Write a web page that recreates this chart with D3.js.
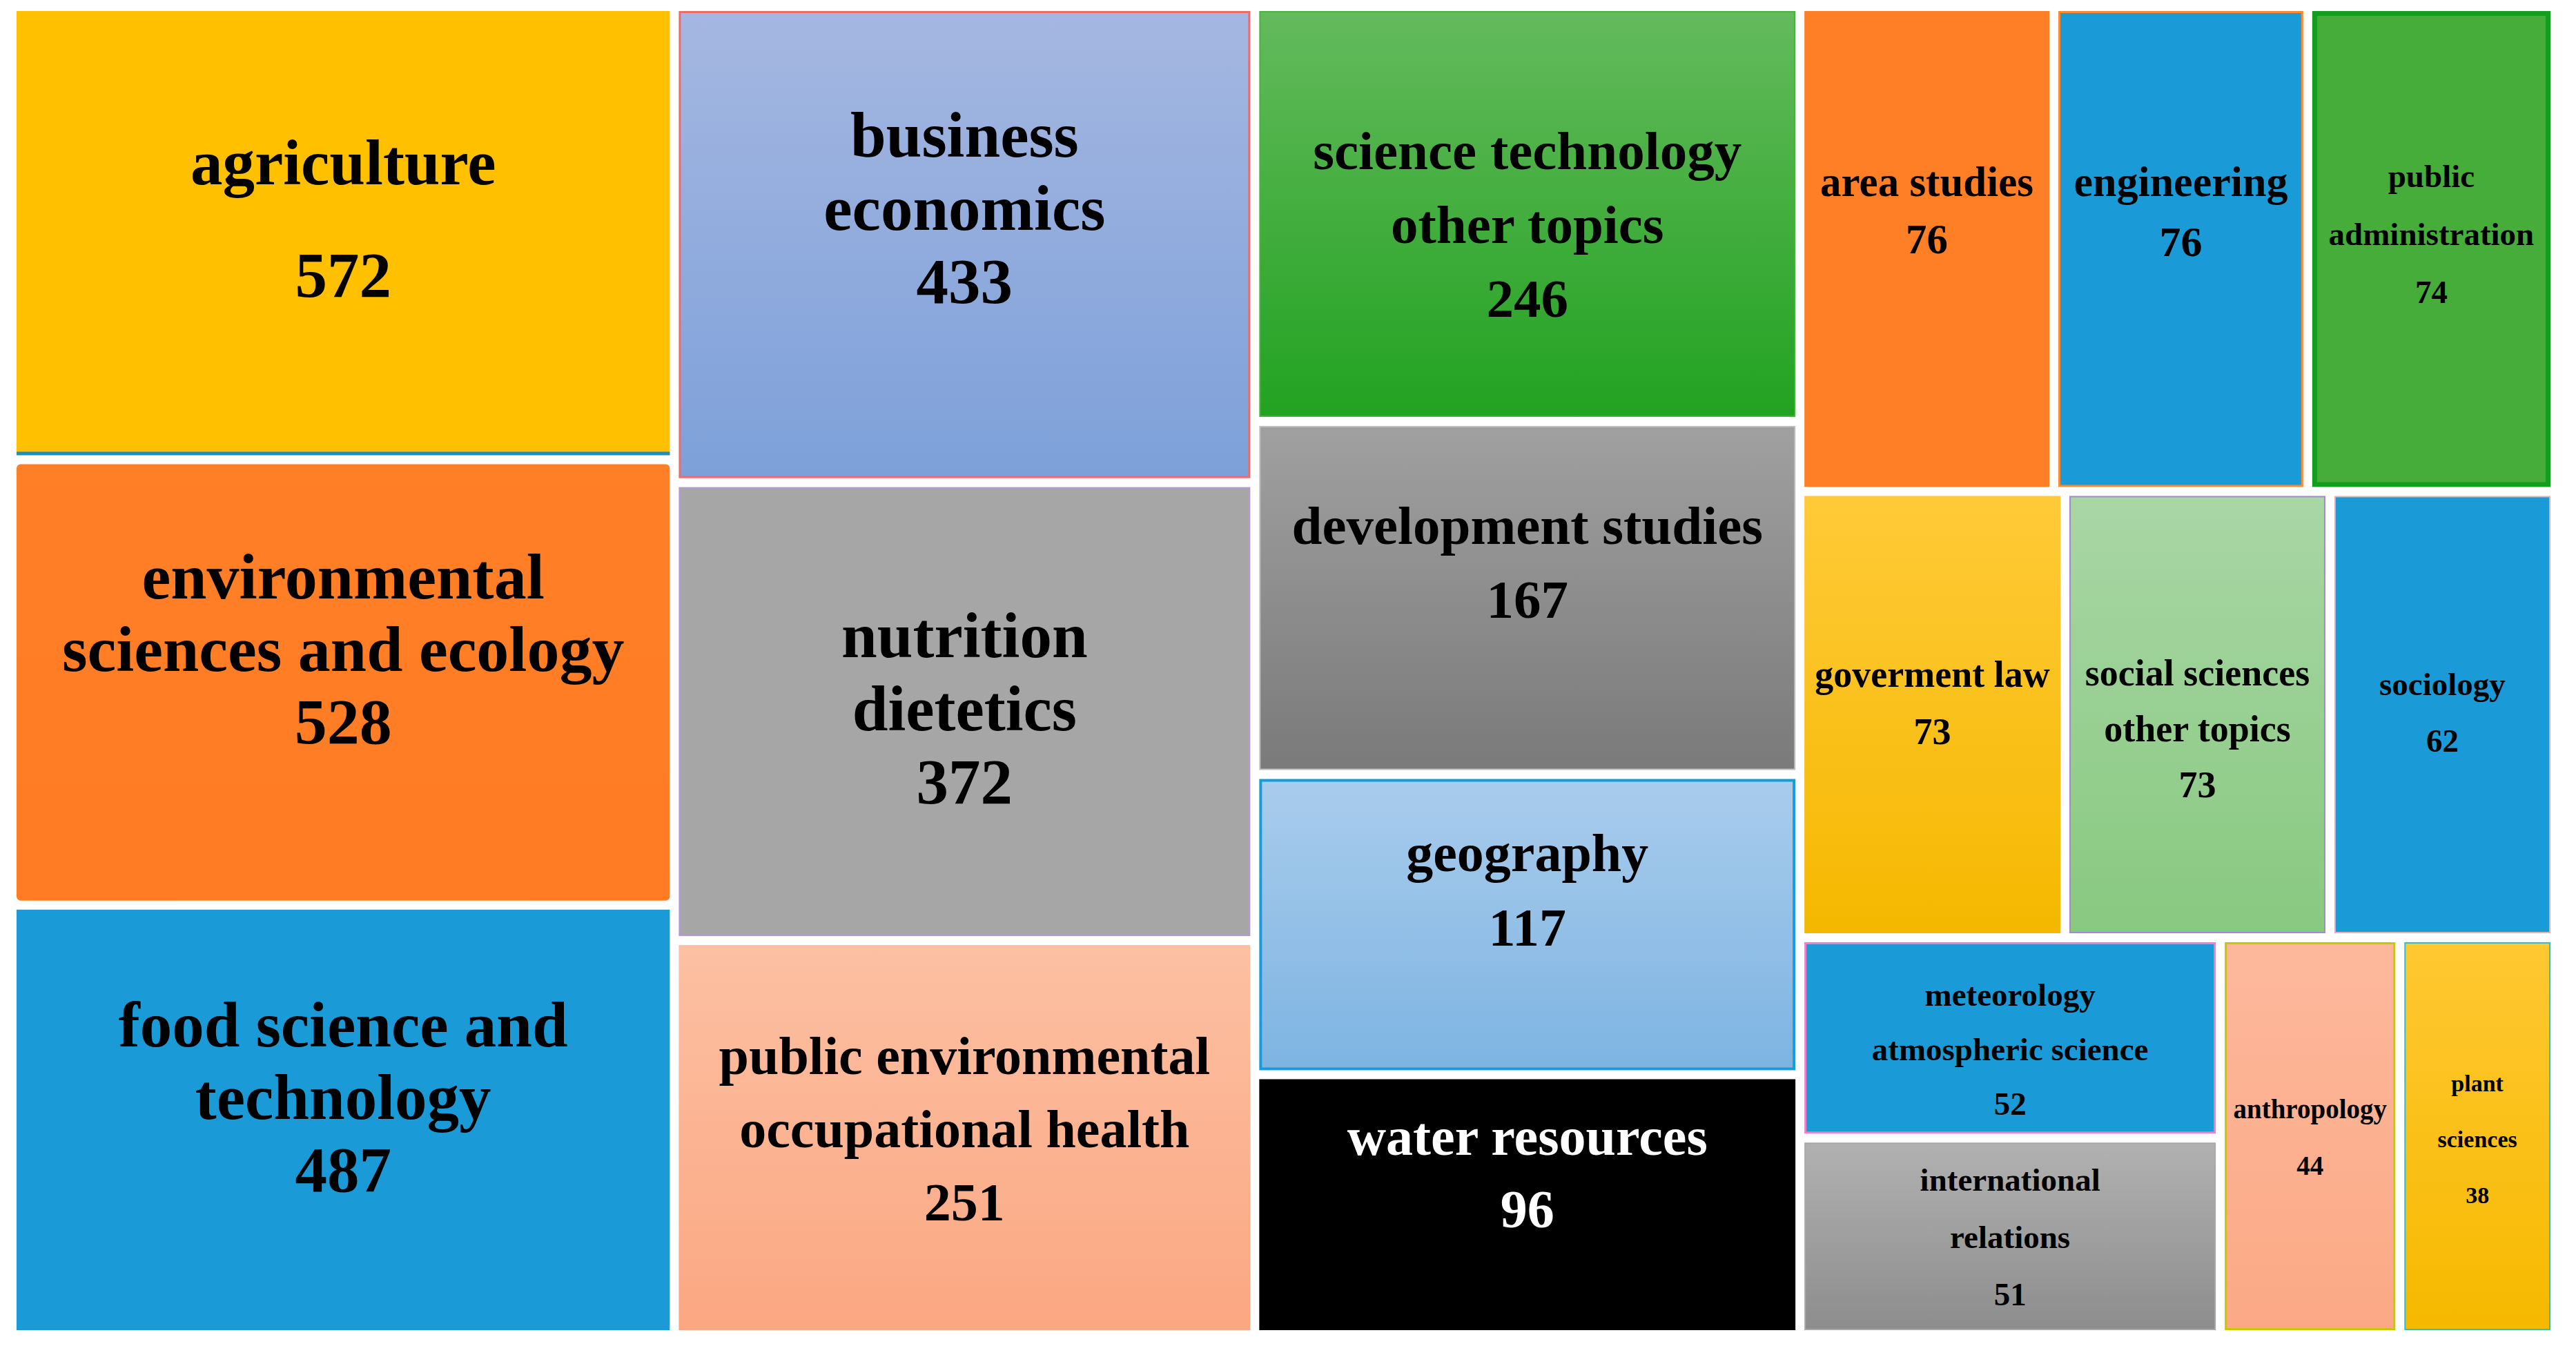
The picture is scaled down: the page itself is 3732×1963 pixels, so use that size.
<!DOCTYPE html>
<html>
<head>
<meta charset="utf-8">
<script src="https://cdn.jsdelivr.net/npm/d3@7"></script>
<style>
  body { margin: 0; background: #ffffff; }
  svg { display: block; }
</style>
</head>
<body>
<div id="chart"></div>
<script>
// research areas and their record counts
let categories = [
  "agriculture", "environmental sciences and ecology", "food science and technology",
  "business economics", "nutrition dietetics", "public environmental occupational health",
  "science technology other topics", "development studies", "geography", "water resources",
  "area studies", "engineering", "public administration",
  "goverment law", "social sciences other topics", "sociology",
  "meteorology atmospheric science", "international relations", "anthropology", "plant sciences"
];
let counts = [572, 528, 487, 433, 372, 251, 246, 167, 117, 96, 76, 76, 74, 73, 73, 62, 52, 51, 44, 38];

// how each label is broken into lines in the picture
let labelLines = [
  ["agriculture"], ["environmental", "sciences and ecology"], ["food science and", "technology"],
  ["business", "economics"], ["nutrition", "dietetics"], ["public environmental", "occupational health"],
  ["science technology", "other topics"], ["development studies"], ["geography"], ["water resources"],
  ["area studies"], ["engineering"], ["public", "administration"],
  ["goverment law"], ["social sciences", "other topics"], ["sociology"],
  ["meteorology", "atmospheric science"], ["international", "relations"], ["anthropology"], ["plant", "sciences"]
];

// arrangement of the cells (indices into categories)
// the three big columns were sized by hand in the original, so they get relative shares;
// the last column is split by the counts themselves
let columnMembers = [[0, 1, 2], [3, 4, 5], [6, 7, 8, 9]];
let columnShare = [956, 838, 787, 1090];
let stackShare = [[652, 641, 618], [685, 659, 567], [597, 508, 432, 374]];
let restRows = [[10, 11, 12], [13, 14, 15], [[16, 17], 18, 19]];

// styles
let fills = [
  ["#FFC000", "#FFC000"], ["#FF7F27", "#FF7C24"], ["#1A9BD7", "#1A9BD7"],
  ["#A5B7E1", "#7DA0D9"], ["#A6A6A6", "#A6A6A6"], ["#FCC0A2", "#FBA782"],
  ["#64BA5C", "#22A221"], ["#A0A0A0", "#7A7A7A"], ["#A9CCEC", "#7EB4E2"], ["#000000", "#000000"],
  ["#FF7F27", "#FF7F27"], ["#1A9BD7", "#1A9BD7"], ["#46AD3A", "#46AD3A"],
  ["#FFCA38", "#F5B800"], ["#A9D6A5", "#88C980"], ["#1A9BD7", "#1A9BD7"],
  ["#1A9BD7", "#1A9BD7"], ["#B1B1B1", "#8D8D8D"], ["#FDB89C", "#FBA985"], ["#FFC832", "#F6B900"]
];
let strokes = [
  null, null, null,
  ["#F06A6A", 3], ["#B695D9", 2], null,
  ["#4CB043", 2], ["#BDBDBD", 2], ["#1A9BD7", 4], null,
  null, ["#FF8A30", 3], ["#129E1E", 7],
  null, ["#A784D6", 2], ["#E3B3B3", 2],
  ["#F07FC8", 3], ["#A8A8A8", 2], ["#C2CA00", 3], ["#35BCC6", 2]
];
// label font size, gap between baselines, first baseline as a share of the cell height
let labelStyle = [
  [93, 163, 0.390], [94, 105, 0.307], [93, 105, 0.326],
  [93, 106, 0.312], [93, 106, 0.378], [78, 106, 0.335],
  [79, 107, 0.389], [79, 107, 0.343], [78, 108, 0.317], [78, 105, 0.301],
  [61, 83, 0.388], [62, 87, 0.388], [47, 84, 0.370],
  [54, 83, 0.437], [54, 81, 0.433], [47, 82, 0.456],
  [47, 79, 0.333], [47, 83, 0.258], [39, 82, 0.453], [34, 81, 0.384]
];

let w = 3732, h = 1963;
let margin = {left: 24, top: 16, right: 37, bottom: 36};

let viz = d3.select("#chart")
  .append("svg")
    .attr("width", w)
    .attr("height", h)
    .style("background-color", "#ffffff")
;

function leaf(i){
  return {name: categories[i], value: counts[i], idx: i};
}

let tree = {
  dir: "row",
  shares: columnShare,
  children: columnMembers.map(function(m, c){
    return {dir: "col", shares: stackShare[c], children: m.map(leaf)};
  }).concat([{
    dir: "col",
    children: restRows.map(function(r){
      return {dir: "row", children: r.map(function(e){
        return Array.isArray(e) ? {dir: "col", children: e.map(leaf)} : leaf(e);
      })};
    })
  }])
};

// slice/dice by the given shares, or by the summed counts when no shares are given
function tile(node, x0, y0, x1, y1){
  let kids = node.children;
  let weights = node.data.shares || kids.map(function(k){ return k.value; });
  let along = node.data.dir === "row";
  let scale = d3.scaleLinear()
    .domain([0, d3.sum(weights)])
    .range(along ? [x0, x1] : [y0, y1]);
  let acc = 0;
  kids.forEach(function(k, i){
    let a = scale(acc), b = scale(acc + weights[i]);
    acc += weights[i];
    if(along){ k.x0 = a; k.x1 = b; k.y0 = y0; k.y1 = y1; }
    else { k.x0 = x0; k.x1 = x1; k.y0 = a; k.y1 = b; }
  });
}

let root = d3.hierarchy(tree).sum(function(d){ return d.value || 0; });
d3.treemap()
  .tile(tile)
  .size([w - margin.left - margin.right, h - margin.top - margin.bottom])
  .paddingInner(13)
  (root);

let defs = viz.append("defs");
let leaves = root.leaves();

leaves.forEach(function(d){
  let g = defs.append("linearGradient")
    .attr("id", "grad" + d.data.idx)
    .attr("x1", 0).attr("y1", 0).attr("x2", 0).attr("y2", 1);
  g.append("stop").attr("offset", "0%").attr("stop-color", fills[d.data.idx][0]);
  g.append("stop").attr("offset", "100%").attr("stop-color", fills[d.data.idx][1]);
});

let graphgroup = viz.append("g")
  .attr("transform", "translate(" + margin.left + "," + margin.top + ")");

let cells = graphgroup.selectAll(".cell").data(leaves).enter()
  .append("g")
    .attr("class", "cell")
    .attr("transform", function(d){ return "translate(" + d.x0 + "," + d.y0 + ")"; })
;

cells.append("rect")
  .attr("x", function(d){ let s = strokes[d.data.idx]; return s ? s[1] / 2 : 0; })
  .attr("y", function(d){ let s = strokes[d.data.idx]; return s ? s[1] / 2 : 0; })
  .attr("width", function(d){ let s = strokes[d.data.idx]; return d.x1 - d.x0 - (s ? s[1] : 0); })
  .attr("height", function(d){ let s = strokes[d.data.idx]; return d.y1 - d.y0 - (s ? s[1] : 0); })
  .attr("rx", function(d){ return d.data.idx === 1 ? 6 : 0; })
  .attr("fill", function(d){ return "url(#grad" + d.data.idx + ")"; })
  .attr("stroke", function(d){ let s = strokes[d.data.idx]; return s ? s[0] : "none"; })
  .attr("stroke-width", function(d){ let s = strokes[d.data.idx]; return s ? s[1] : 0; })
;

// thin blue rule under agriculture
cells.filter(function(d){ return d.data.idx === 0; })
  .append("rect")
    .attr("x", 0)
    .attr("y", function(d){ return d.y1 - d.y0 - 5; })
    .attr("width", function(d){ return d.x1 - d.x0; })
    .attr("height", 5)
    .attr("fill", "#1A8FC4")
;

cells.each(function(d){
  let i = d.data.idx;
  let st = labelStyle[i];
  let lines = labelLines[i].concat([String(counts[i])]);
  let cw = d.x1 - d.x0, ch = d.y1 - d.y0;
  let text = d3.select(this).append("text")
    .attr("text-anchor", "middle")
    .attr("font-family", "'Liberation Serif', 'Times New Roman', serif")
    .attr("font-weight", "bold")
    .attr("font-size", st[0] + "px")
    .attr("fill", i === 9 ? "#ffffff" : "#000000");
  lines.forEach(function(line, k){
    text.append("tspan")
      .attr("x", cw / 2)
      .attr("y", ch * st[2] + k * st[1])
      .text(line);
  });
});
</script>
</body>
</html>
